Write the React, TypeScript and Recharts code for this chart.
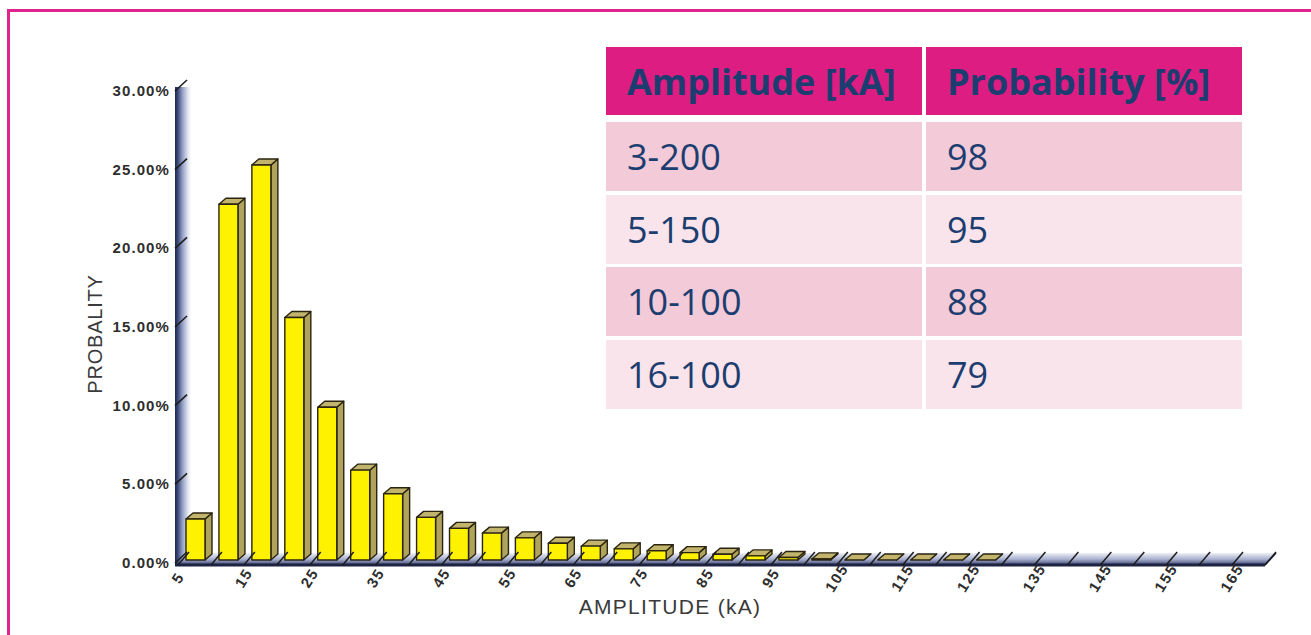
import { Bar, BarChart, ReferenceArea, XAxis, YAxis } from 'recharts';

// Stroke current amplitude bins (kA, bin start) and share of strokes per bin (%)
const binStart = [
    5, 10, 15, 20, 25, 30, 35, 40, 45, 50, 55, 60, 65, 70, 75, 80, 85, 90, 95, 100, 105, 110, 115,
    120, 125,
];
const probability = [
    2.8, 22.8, 25.3, 15.6, 9.9, 5.9, 4.4, 2.9, 2.2, 1.9, 1.6, 1.26, 1.07, 0.9, 0.78, 0.66, 0.56,
    0.45, 0.35, 0.26, 0.15, 0.13, 0.12, 0.1, 0.1,
];
const binWidth = 5;

const amplitudeTicks = [
    5, 10, 15, 20, 25, 30, 35, 40, 45, 50, 55, 60, 65, 70, 75, 80, 85, 90, 95, 100, 105, 110, 115,
    120, 125, 130, 135, 140, 145, 150, 155, 160, 165, 170,
];
const labelledTicks = [5, 15, 25, 35, 45, 55, 65, 75, 85, 95, 105, 115, 125, 135, 145, 155, 165];
const probabilityTicks = [0, 5, 10, 15, 20, 25, 30];

// summary table
const headers = ['Amplitude [kA]', 'Probability [%]'];
const ranges = ['3-200', '5-150', '10-100', '16-100'];
const rangeProbability = ['98', '95', '88', '79'];

const data = binStart.map((start, i) => ({ mid: start + binWidth / 2, p: probability[i] }));

const INK = '#2e2e2e';
const NAVY = '#1c3d70';
const FRAME = '#e3238d';
const AXIS_FONT = '"Liberation Sans", Arial, sans-serif';
const DEPTH_X = 7;
const DEPTH_Y = 6;

function Prism(props: any) {
    const { x, y, width, height } = props;
    if (x == null || y == null) return null;
    const front = width - DEPTH_X;
    const left = x + 5;
    const right = left + front;
    const base = y + height - 3;
    const top = Math.min(y, base);
    return (
        <g stroke="#2a2410" strokeWidth={1.4} strokeLinejoin="round">
            <polygon
                points={`${right},${base} ${right + DEPTH_X},${base - DEPTH_Y} ${right + DEPTH_X},${top - DEPTH_Y} ${right},${top}`}
                fill="#b0a35b"
            />
            <polygon
                points={`${left},${top} ${left + DEPTH_X},${top - DEPTH_Y} ${right + DEPTH_X},${top - DEPTH_Y} ${right},${top}`}
                fill="#c2b46c"
            />
            {base > top && <rect x={left} y={top} width={front} height={base - top} fill="#fff200" />}
        </g>
    );
}

function Wall(props: any) {
    const { x, y, height } = props;
    return (
        <g>
            <defs>
                <linearGradient id="wallShade" x1="0" y1="0" x2="1" y2="0">
                    <stop offset="0" stopColor="#1c2548" />
                    <stop offset="0.18" stopColor="#3e4b7a" />
                    <stop offset="0.45" stopColor="#8f9bc2" />
                    <stop offset="0.8" stopColor="#e0e4f0" />
                    <stop offset="1" stopColor="#ffffff" />
                </linearGradient>
            </defs>
            <rect x={x - 3} y={y - 4} width={16} height={height + 6} fill="url(#wallShade)" />
        </g>
    );
}

function Floor(props: any) {
    const { x, y, width, height } = props;
    const base = y + height;
    const l = x;
    const r = x + width;
    return (
        <g>
            <defs>
                <linearGradient id="floorShade" x1="0" y1="0" x2="0" y2="1">
                    <stop offset="0" stopColor="#eef0f7" />
                    <stop offset="0.55" stopColor="#a3abcb" />
                    <stop offset="1" stopColor="#3a4370" />
                </linearGradient>
            </defs>
            <polygon
                points={`${l},${base + 2} ${r},${base + 2} ${r + 11},${base - 10} ${l + 11},${base - 10}`}
                fill="url(#floorShade)"
            />
            <line x1={l - 3} y1={base + 2} x2={r} y2={base + 2} stroke="#1d2340" strokeWidth={3} />
            <line x1={r} y1={base + 2} x2={r + 11} y2={base - 10} stroke="#1d2340" strokeWidth={1.5} />
        </g>
    );
}

function ProbabilityTick({ x, y, payload }: any) {
    return (
        <g>
            <line x1={x - 3} y1={y} x2={x + 9} y2={y - 11} stroke="#1e1e1e" strokeWidth={1.6} />
            <text
                x={x - 8}
                y={y}
                dy={5}
                textAnchor="end"
                fontFamily={AXIS_FONT}
                fontWeight="bold"
                fontSize={15}
                letterSpacing={1.1}
                fill={INK}
            >
                {`${payload.value.toFixed(2)}%`}
            </text>
        </g>
    );
}

function AmplitudeTick({ x, y, payload }: any) {
    const v = payload.value;
    return (
        <g>
            <line x1={x} y1={y + 2} x2={x + 11} y2={y - 11} stroke="#1e1e1e" strokeWidth={1.5} />
            {labelledTicks.includes(v) && (
                <text
                    transform={`translate(${x},${y + 15}) rotate(-58)`}
                    dy={5}
                    textAnchor="middle"
                    fontFamily={AXIS_FONT}
                    fontWeight="bold"
                    fontSize={15}
                    letterSpacing={1.5}
                    fill={INK}
                >
                    {v}
                </text>
            )}
        </g>
    );
}

function YTitle({ viewBox }: any) {
    const cx = viewBox.x + 17;
    const cy = viewBox.y + viewBox.height / 2 + 7;
    return (
        <text
            transform={`translate(${cx},${cy}) rotate(-90)`}
            dy={7}
            textAnchor="middle"
            fontFamily={AXIS_FONT}
            fontSize={20}
            letterSpacing={0.8}
            fill="#3a3a3a"
        >
            PROBALITY
        </text>
    );
}

function XTitle({ viewBox }: any) {
    return (
        <text
            x={viewBox.x + 492}
            y={viewBox.y + 51}
            textAnchor="middle"
            fontFamily={AXIS_FONT}
            fontSize={21}
            letterSpacing={1.3}
            fill="#3a3a3a"
        >
            AMPLITUDE (kA)
        </text>
    );
}

function SummaryTable() {
    const cell = (text: string, bg: string, bold = false) => (
        <div
            style={{
                flex: 1,
                background: bg,
                display: 'flex',
                alignItems: 'center',
                paddingLeft: 21,
                fontWeight: bold ? 700 : 400,
            }}
        >
            {text}
        </div>
    );
    return (
        <div
            style={{
                position: 'absolute',
                left: 606,
                top: 47,
                width: 636,
                fontFamily: '"Open Sans", sans-serif',
                fontSize: 36,
                color: NAVY,
            }}
        >
            <div style={{ display: 'flex', gap: 4, height: 68, marginBottom: 7 }}>
                {cell(headers[0], '#dd1d82', true)}
                {cell(headers[1], '#dd1d82', true)}
            </div>
            {ranges.map((r, i) => {
                const bg = i % 2 === 0 ? '#f2cad8' : '#f9e4eb';
                return (
                    <div key={r} style={{ display: 'flex', gap: 4, height: 69, marginBottom: 3.5 }}>
                        {cell(r, bg)}
                        {cell(rangeProbability[i], bg)}
                    </div>
                );
            })}
        </div>
    );
}

export default function App() {
    return (
        <div
            style={{
                position: 'relative',
                width: 1311,
                height: 635,
                background: '#ffffff',
                overflow: 'hidden',
            }}
        >
            <style>{'body { margin: 0; overflow: hidden; }'}</style>
            {/* page frame: only the top and left edges fall inside the page */}
            <div style={{ position: 'absolute', left: 7, top: 9, width: 1304, height: 3, background: FRAME }} />
            <div style={{ position: 'absolute', left: 7, top: 9, width: 3, height: 626, background: FRAME }} />
            <div style={{ position: 'absolute', left: 0, top: 0 }}>
                <BarChart
                    width={1311}
                    height={635}
                    data={data}
                    margin={{ top: 91, right: 46, left: 78, bottom: 22 }}
                >
                    <XAxis
                        type="number"
                        dataKey="mid"
                        domain={[5, 170]}
                        ticks={amplitudeTicks}
                        interval={0}
                        height={50}
                        tickSize={0}
                        tickMargin={0}
                        axisLine={false}
                        tickLine={false}
                        tick={<AmplitudeTick />}
                        label={<XTitle />}
                    />
                    <YAxis
                        type="number"
                        domain={[0, 30]}
                        ticks={probabilityTicks}
                        interval={0}
                        width={100}
                        tickSize={0}
                        tickMargin={0}
                        axisLine={false}
                        tickLine={false}
                        tick={<ProbabilityTick />}
                        label={<YTitle />}
                    />
                    <ReferenceArea x1={5} x2={6} y1={0} y2={30} ifOverflow="visible" shape={Wall} />
                    <ReferenceArea x1={5} x2={170} y1={0} y2={0.6} ifOverflow="visible" shape={Floor} />
                    <Bar dataKey="p" barSize={26} shape={Prism} isAnimationActive={false} />
                </BarChart>
            </div>
            <SummaryTable />
        </div>
    );
}
